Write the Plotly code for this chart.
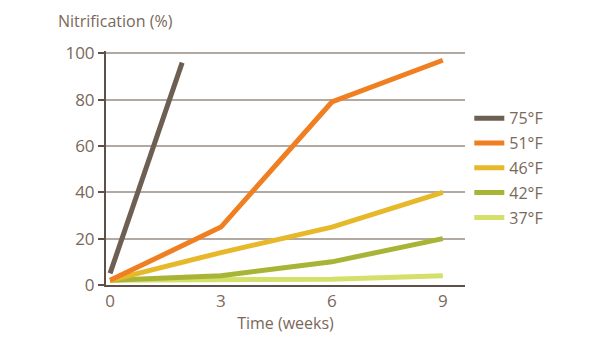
import plotly.graph_objects as go

# Nitrification over time at different storage temperatures
weeks = [0, 3, 6, 9]
temp_75_weeks = [0, 1.95]
temp_75 = [5, 96]
temp_51 = [2, 25, 79, 97]
temp_46 = [2, 14, 25, 40]
temp_42 = [2, 4, 10, 20]
temp_37 = [2, 2, 2.5, 4]

labels = ["75°F", "51°F", "46°F", "42°F", "37°F"]
colors = ["#6e5f53", "#f07f22", "#e6b82a", "#a8b436", "#d4e06a"]

text_color = "#7a6859"
axis_color = "#5e5047"
grid_color = "#b2aaa2"
font_family = "Open Sans, DejaVu Sans, sans-serif"

series = [
    (temp_75_weeks, temp_75),
    (weeks, temp_51),
    (weeks, temp_46),
    (weeks, temp_42),
    (weeks, temp_37),
]

fig = go.Figure()
# 37°F first so warmer curves sit on top; legend order handled by legendrank
for i in reversed(range(len(series))):
    xs, ys = series[i]
    fig.add_trace(go.Scatter(
        x=xs, y=ys, mode="lines", name=labels[i],
        line=dict(color=colors[i], width=5),
        legendgroup=labels[i], legendrank=i + 1,
    ))

fig.update_layout(
    width=600, height=337,
    margin=dict(l=106, r=135, t=51, b=52),
    paper_bgcolor="white", plot_bgcolor="white",
    font=dict(family=font_family, color=text_color, size=16),
    showlegend=True,
    legend=dict(
        x=1.012, y=0.785, xanchor="left", yanchor="top",
        font=dict(size=16, color=text_color),
        tracegroupgap=1, itemwidth=30,
        bgcolor="rgba(0,0,0,0)",
    ),
    xaxis=dict(
        range=[-0.11, 9.6], tickvals=weeks, ticktext=[str(w) for w in weeks],
        showgrid=False, zeroline=False,
        showline=True, linecolor=axis_color, linewidth=2,
        ticks="", tickfont=dict(size=17, color=text_color),
        title=dict(text="Time (weeks)", font=dict(size=16, color=text_color), standoff=0),
    ),
    yaxis=dict(
        range=[0, 101], tickvals=[0, 20, 40, 60, 80, 100],
        showgrid=True, gridcolor=grid_color, gridwidth=1.5,
        zeroline=False,
        showline=True, linecolor=axis_color, linewidth=2,
        ticks="outside", ticklen=6, tickcolor=axis_color, tickwidth=1.5,
        tickfont=dict(size=17, color=text_color),
    ),
    annotations=[dict(
        text="Nitrification (%)", xref="paper", yref="paper",
        x=-0.14, y=1.0, yshift=43, xanchor="left", yanchor="top",
        showarrow=False, font=dict(size=16, color=text_color),
    )],
)

fig.write_html("out.html")
